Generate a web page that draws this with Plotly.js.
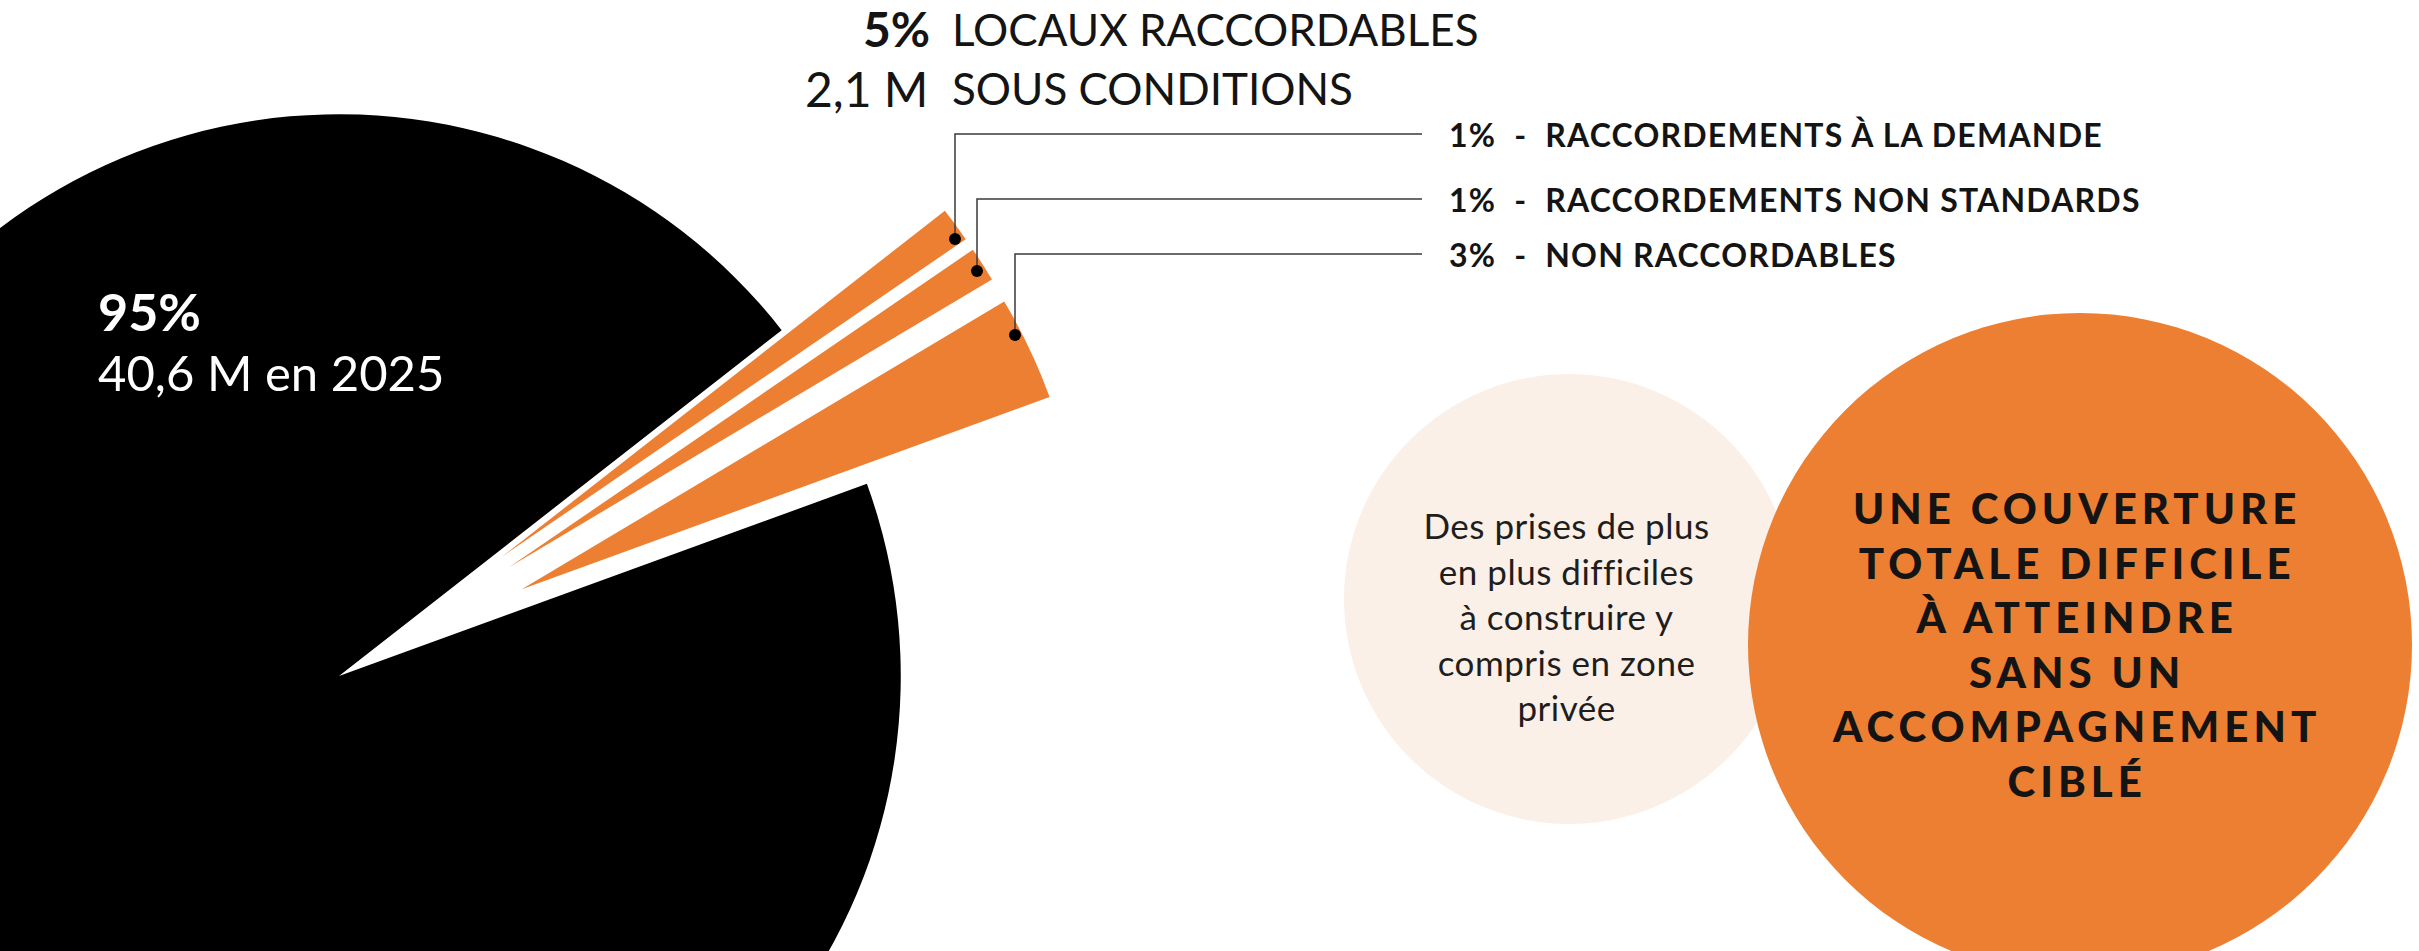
<!DOCTYPE html>
<html>
<head>
<meta charset="utf-8">
<script src="https://cdn.plot.ly/plotly-3.0.1.min.js"></script>
<style>
  html, body { margin: 0; padding: 0; overflow: hidden; background: #fff; }
  /* the pie runs off the left and bottom of the picture, so the plot is shifted */
  #myViz { position: absolute; left: -425px; top: -88px; }
  #myViz .annotation[data-index="0"] text { letter-spacing: 5px; }
  #myViz .annotation[data-index="1"] text { letter-spacing: 0.5px; }
  #myViz .annotation[data-index="8"] text,
  #myViz .annotation[data-index="9"] text,
  #myViz .annotation[data-index="10"] text { letter-spacing: 1.2px; }
</style>
</head>
<body>
<div id="myViz"></div>
<script>
// part des locaux, 2025
var labels = ['Locaux raccordables', 'Non raccordables', 'Raccordements non standards', 'Raccordements à la demande'];
var values = [95, 3, 1, 1];
var colors = ['#000000', '#ed7f32', '#ed7f32', '#ed7f32'];
var pulls = [0, 0.36, 0.36, 0.36];

var mainPct = '95%';
var mainCount = '40,6 M en 2025';
var restPct = '5%';
var restCount = '2,1 M';

// right hand labels, top to bottom
var rowIdx = [3, 2, 1];
var rowText = ['RACCORDEMENTS À LA DEMANDE', 'RACCORDEMENTS NON STANDARDS', 'NON RACCORDABLES'];

var bubbleText = 'Des prises de plus<br>en plus difficiles<br>à construire y<br>compris en zone<br>privée';
var bigText = 'UNE COUVERTURE<br>TOTALE DIFFICILE<br>À ATTEINDRE<br>SANS UN<br>ACCOMPAGNEMENT<br>CIBLÉ';

// page pixels -> paper
var OX = 425, OY = 88, W = 2844, H = 1528;
function fx(p) { return (p + OX) / W; }
function fy(p) { return 1 - (p + OY) / H; }

var pie = {
    type: 'pie',
    labels: labels,
    values: values,
    sort: false,
    direction: 'counterclockwise',
    rotation: 70,
    pull: pulls,
    marker: { colors: colors, line: { width: 0 } },
    textinfo: 'none',
    hoverinfo: 'label+percent',
    domain: { x: [0, H / W], y: [0, 1] }
};

var ink = '#141414';
var annotations = [
    { x: fx(2076), y: fy(644), text: bigText, xanchor: 'center', yanchor: 'middle',
      font: { family: 'Lato', size: 42, weight: 900, color: ink } },
    { x: fx(1566), y: fy(616), text: bubbleText, xanchor: 'center', yanchor: 'middle',
      font: { family: 'Lato', size: 35, color: '#1e1e1e' } },
    { x: fx(96), y: fy(311), text: '<b>' + mainPct + '</b>', xanchor: 'left', yanchor: 'middle',
      font: { family: 'Lato', size: 52, color: '#ffffff' } },
    { x: fx(96), y: fy(372), text: mainCount, xanchor: 'left', yanchor: 'middle',
      font: { family: 'Lato', size: 49, color: '#ffffff' } },
    { x: fx(932), y: fy(29), text: '<b>' + restPct + '</b>', xanchor: 'right', yanchor: 'middle',
      font: { family: 'Lato', size: 48, color: ink } },
    { x: fx(950), y: fy(29), text: 'LOCAUX RACCORDABLES', xanchor: 'left', yanchor: 'middle',
      font: { family: 'Lato', size: 44, color: ink } },
    { x: fx(930), y: fy(88), text: restCount, xanchor: 'right', yanchor: 'middle',
      font: { family: 'Lato', size: 48, color: ink } },
    { x: fx(950), y: fy(88), text: 'SOUS CONDITIONS', xanchor: 'left', yanchor: 'middle',
      font: { family: 'Lato', size: 44, color: ink } }
];

var rowY = [134, 199, 254];
var dotX = [955, 977, 1015];
var dotY = [239, 271, 335];

var shapes = [
    { type: 'circle', xref: 'paper', yref: 'paper', x0: fx(1344), x1: fx(1794), y0: fy(824), y1: fy(374),
      fillcolor: '#fbf0e8', line: { width: 0 } },
    { type: 'circle', xref: 'paper', yref: 'paper', x0: fx(1748), x1: fx(2412), y0: fy(977), y1: fy(313),
      fillcolor: '#ed7f32', line: { width: 0 } }
];

for (var i = 0; i < rowText.length; i++) {
    annotations.push({
        x: fx(1447), y: fy(rowY[i]), xanchor: 'left', yanchor: 'middle', align: 'left',
        text: '<b>' + values[rowIdx[i]] + '%\u00a0\u00a0-\u00a0\u00a0' + rowText[i] + '</b>',
        font: { family: 'Lato', size: 32, color: ink }
    });
    shapes.push({
        type: 'path', xref: 'paper', yref: 'paper',
        path: 'M' + fx(dotX[i]) + ',' + fy(dotY[i]) + ' L' + fx(dotX[i]) + ',' + fy(rowY[i]) +
              ' L' + fx(1422) + ',' + fy(rowY[i]),
        line: { color: '#3a3a3a', width: 1.5 }
    });
    shapes.push({
        type: 'circle', xref: 'paper', yref: 'paper',
        x0: fx(dotX[i] - 6), x1: fx(dotX[i] + 6), y0: fy(dotY[i] + 6), y1: fy(dotY[i] - 6),
        fillcolor: '#000000', line: { width: 0 }
    });
}
annotations.forEach(function (a) { a.xref = 'paper'; a.yref = 'paper'; a.showarrow = false; });

var layout = {
    width: W,
    height: H,
    margin: { l: 0, r: 0, t: 0, b: 0 },
    showlegend: false,
    paper_bgcolor: '#ffffff',
    annotations: annotations,
    shapes: shapes
};

Plotly.newPlot('myViz', [pie], layout, { displayModeBar: false });
</script>
</body>
</html>
